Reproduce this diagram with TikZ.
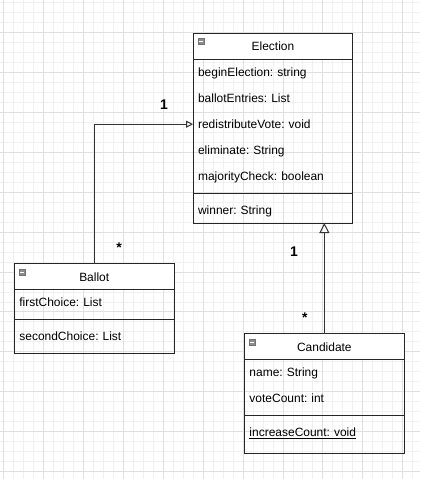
\documentclass[tikz,border=0pt]{standalone}
\usepackage{fontspec}
\setmainfont{Liberation Sans}
\usepackage{tikz}
\usetikzlibrary{arrows.meta,positioning}

\begin{document}
\begin{tikzpicture}[x=1pt, y=-1pt,
    %Options for the class boxes
    >=Triangle, %
    inner sep=0pt, outer sep=0pt,%
    font=\fontsize{12}{14}\selectfont\frenchspacing,
    gridminor/.style={color=black!6, line width=0.8pt},
    gridmajor/.style={color=black!12, line width=0.8pt},
    frame/.style={draw=black!85, line width=1pt},
    classhead/.style={frame, minimum width=160pt, minimum height=26pt, fill=white},
    member/.style={text width=150pt, inner xsep=5pt, minimum height=26pt,
                   text height=11pt, text depth=3pt, align=left},
    collapse/.style={fill=black!45, draw=black!55, line width=0.4pt},
    inherit/.style={draw=black!80, line width=1pt, -{Triangle[open, length=#1, width=#1]}},
    mult/.style={font=\fontsize{14}{16}\selectfont\bfseries},
]
    % Colors
    \colorlet{paper}{white}

    % Grid
    \fill[paper] (0,0) rectangle (420,479);
    \foreach \x in {3,13,...,413} \draw[gridminor] (\x,0) -- (\x,479);
    \foreach \y in {2,12,...,472} \draw[gridminor] (0,\y) -- (420,\y);
    \foreach \x in {3,43,...,403} \draw[gridmajor] (\x,0) -- (\x,479);
    \foreach \y in {32,72,...,472} \draw[gridmajor] (0,\y) -- (420,\y);
    \useasboundingbox (0,0) rectangle (420,479);

    % Election
    \node[classhead] (election) at (273,46) {Election};
    \node[member, below=0pt of election] (beginelection) {beginElection: string};
    \node[member, below=0pt of beginelection] (ballotentries) {ballotEntries: List};
    \node[member, below=0pt of ballotentries] (redistributevote) {redistributeVote: void};
    \node[member, below=0pt of redistributevote] (eliminate) {eliminate: String};
    \node[member, below=0pt of eliminate] (majoritycheck) {majorityCheck: boolean};
    \node[member, below=8pt of majoritycheck] (winner) {winner: String};
    \draw[frame] (election.north west) rectangle (winner.south east);
    \draw[frame] ([yshift=-4pt]majoritycheck.south west) -- ([yshift=-4pt]majoritycheck.south east);

    % Ballot
    \node[classhead] (ballot) at (94,277) {Ballot};
    \node[member, below=0pt of ballot] (firstchoice) {firstChoice: List};
    \node[member, below=8pt of firstchoice] (secondchoice) {secondChoice: List};
    \draw[frame] (ballot.north west) rectangle ([yshift=-4pt]secondchoice.south east);
    \draw[frame] ([yshift=-4pt]firstchoice.south west) -- ([yshift=-4pt]firstchoice.south east);

    % Candidate
    \node[classhead] (candidate) at (324.5,347) {Candidate};
    \node[member, below=0pt of candidate] (name) {name: String};
    \node[member, below=0pt of name] (votecount) {voteCount: int};
    \node[member, below=8pt of votecount] (increasecount) {\underline{increaseCount: void}};
    \draw[frame] (candidate.north west) rectangle ([yshift=-8pt]increasecount.south east);
    \draw[frame] ([yshift=-4pt]votecount.south west) -- ([yshift=-4pt]votecount.south east);

    % Collapse icons
    \foreach \c in {election,ballot,candidate} {
        \draw[collapse] ([shift={(5,5)}]\c.north west) rectangle ++(6,6);
        \draw[white, line width=0.6pt] ([shift={(6,8)}]\c.north west) -- ++(4,0);
    }

    % Generalisations
    \draw[inherit=7pt] (ballot.north) |- (redistributevote.west);
    \draw[inherit=10pt] (candidate.north) -- (candidate.north |- winner.south);

    % Multiplicities
    \node[mult] (electionone) at (164,104) {1};
    \node[mult] (ballotmany) at (119,248) {*};
    \node[mult] (electiontwo) at (294,252) {1};
    \node[mult] (candidatemany) at (305,318) {*};

\end{tikzpicture}
\end{document}
